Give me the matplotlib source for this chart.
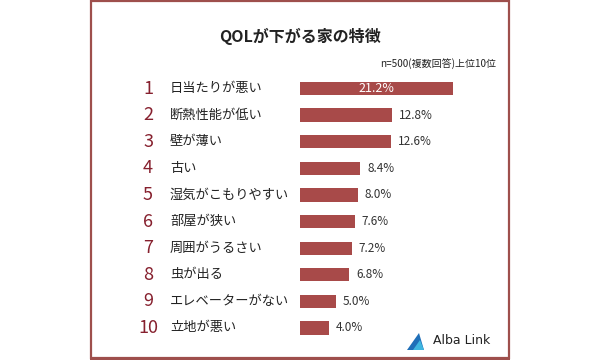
import matplotlib
matplotlib.use("Agg")
import matplotlib.pyplot as plt
from matplotlib.patches import Rectangle, Polygon
from matplotlib.transforms import blended_transform_factory

plt.rcParams["font.family"] = ["Noto Sans CJK JP", "DejaVu Sans"]

TITLE = "QOLが下がる家の特徴"
NOTE = "n=500(複数回答)上位10位"
ranks = ["1", "2", "3", "4", "5", "6", "7", "8", "9", "10"]
labels = ["日当たりが悪い", "断熱性能が低い", "壁が薄い", "古い", "湿気がこもりやすい",
          "部屋が狭い", "周囲がうるさい", "虫が出る", "エレベーターがない", "立地が悪い"]
values = [21.2, 12.8, 12.6, 8.4, 8.0, 7.6, 7.2, 6.8, 5.0, 4.0]

W, H = 600, 360
BAR = "#a84a49"
FRAME = "#9e4f4c"
RANK = "#86202e"
TXT = "#222222"


def px(x, y):
    # pixel coords (top-left origin) -> figure fraction
    return x / W, 1 - y / H


fig = plt.figure(figsize=(6, 3.6), dpi=100)
fig.patch.set_facecolor("white")

# frame
fig.patches.append(Rectangle(px(91, 358), 418 / W, 357 / H, transform=fig.transFigure,
                             fill=False, edgecolor=FRAME, linewidth=1.6))
fig.patches.append(Rectangle(px(90, 359.5), 420 / W, 2.5 / H, transform=fig.transFigure,
                             facecolor=FRAME, edgecolor="none"))

fig.text(*px(300, 36), TITLE, ha="center", va="center", fontsize=11.5,
         fontweight="bold", color=TXT)
fig.text(*px(496, 64), NOTE, ha="right", va="center", fontsize=7.2, color=TXT)

ax = fig.add_axes([0.5, 0.052, 0.3, 0.739])
y = list(range(len(values)))
ax.barh(y, values, height=0.5, color=BAR)
ax.set_xlim(0, 25)
ax.set_ylim(len(values) - 0.5, -0.5)
ax.axis("off")

tr = blended_transform_factory(fig.transFigure, ax.transData)
for i, (r, lab, v) in enumerate(zip(ranks, labels, values)):
    ax.text(148 / W, i, r, transform=tr, ha="center", va="center",
            fontsize=13, color=RANK)
    ax.text(170 / W, i, lab, transform=tr, ha="left", va="center",
            fontsize=9.5, color=TXT)
    if i == 0:
        ax.text(v / 2, i, f"{v:.1f}%", ha="center", va="center",
                fontsize=9, color="white")
    else:
        ax.annotate(f"{v:.1f}%", (v, i), xytext=(5, 0), textcoords="offset points",
                    ha="left", va="center", fontsize=8.5, color="#333333")

# logo
fig.patches.append(Polygon([px(407, 350), px(419, 333), px(424, 350)], closed=True,
                           transform=fig.transFigure, facecolor="#1f6fb8", edgecolor="none"))
fig.patches.append(Polygon([px(413, 350), px(420, 340), px(424, 350)], closed=True,
                           transform=fig.transFigure, facecolor="#3fb6e0", edgecolor="none"))
fig.text(*px(433, 341), "Alba Link", ha="left", va="center", fontsize=9,
         color="#222222", family=["DejaVu Sans"])

fig.savefig("out.png", dpi=100)
